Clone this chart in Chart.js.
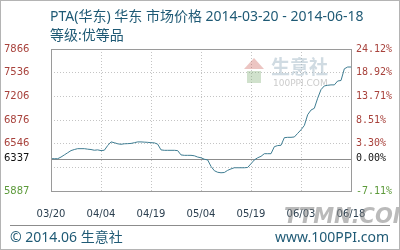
<!DOCTYPE html>
<html>
<head>
<meta charset="utf-8">
<script src="https://cdn.jsdelivr.net/npm/chart.js@4"></script>
<style>
  html, body { margin: 0; padding: 0; background: #fff; }
  #wrap { width: 398px; height: 248px; border: 1px solid #b4b4b4; position: relative; }
  canvas { display: block; }
</style>
</head>
<body>
<div id="wrap"><canvas id="c" width="398" height="248"></canvas></div>
<script>
// dates from 03/20 to 06/18, one point per day
const dates = []
const start = new Date(2014, 2, 20)
for (let i = 0; i <= 90; i++) {
    const d = new Date(start.getTime() + i * 86400000)
    dates.push(String(d.getMonth() + 1).padStart(2, '0') + '/' + String(d.getDate()).padStart(2, '0'))
}

// PTA price
const prices = [
    6337, 6337, 6337, 6360, 6390, 6420, 6450, 6465, 6477, 6477,
    6477, 6470, 6465, 6455, 6460, 6450, 6455, 6520, 6571, 6560,
    6545, 6538, 6545, 6547, 6550, 6560, 6571, 6571, 6568, 6565,
    6560, 6558, 6540, 6460, 6454, 6454, 6454, 6454, 6450, 6390,
    6384, 6384, 6384, 6378, 6360, 6350, 6330, 6320, 6230, 6170,
    6148, 6141, 6145, 6175, 6195, 6211, 6211, 6211, 6211, 6215,
    6267, 6320, 6350, 6370, 6407, 6407, 6407, 6505, 6520, 6524,
    6630, 6635, 6635, 6640, 6690, 6740, 6800, 6950, 7015, 7040,
    7180, 7300, 7352, 7360, 7366, 7366, 7420, 7427, 7590, 7615,
    7615
]

const baseValue = 6337
const tickValues = [5887, 6217, 6337, 6546, 6876, 7206, 7536, 7866]
const leftLabels = ['5887', '', '6337', '6546', '6876', '7206', '7536', '7866']
const rightLabels = ['-7.11%', '', '0.00%', '3.30%', '8.51%', '13.71%', '18.92%', '24.12%']
const xTickStep = 15

const RED = '#a8423c'
const GREEN = '#5c9a3a'
const BLUE = '#1f5a75'

function labelColor(v) {
    if (v === baseValue) return '#111'
    if (v < baseValue) return GREEN
    return RED
}

const decor = {
    id: 'decor',
    beforeDatasetsDraw(chart) {
        const ctx = chart.ctx
        const a = chart.chartArea
        ctx.save()
        // watermark in the plot
        ctx.fillStyle = 'rgba(200,90,80,0.35)'
        ctx.beginPath()
        ctx.moveTo(243, 68); ctx.lineTo(253, 57); ctx.lineTo(263, 68); ctx.closePath(); ctx.fill()
        ctx.fillStyle = 'rgba(120,170,110,0.35)'
        ctx.fillRect(246, 70, 14, 12)
        ctx.fillStyle = 'rgba(150,175,190,0.45)'
        ctx.font = 'bold 19px "Noto Sans CJK SC"'
        ctx.textBaseline = 'middle'
        ctx.fillText('生意社', 270, 66)
        ctx.fillStyle = 'rgba(160,160,160,0.55)'
        ctx.font = '9px "DejaVu Sans"'
        ctx.fillText('100PPI.COM', 272, 83)
        // base line
        const y = chart.scales.y.getPixelForValue(baseValue)
        ctx.strokeStyle = '#8c8c8c'
        ctx.lineWidth = 1
        ctx.beginPath()
        ctx.moveTo(a.left, Math.round(y) + 0.5)
        ctx.lineTo(a.right, Math.round(y) + 0.5)
        ctx.stroke()
        ctx.restore()
    },
    afterDraw(chart) {
        const ctx = chart.ctx
        const a = chart.chartArea
        ctx.save()
        ctx.strokeStyle = '#9a9a9a'
        ctx.lineWidth = 1
        ctx.strokeRect(Math.round(a.left) + 0.5, Math.round(a.top) + 0.5, Math.round(a.right - a.left), Math.round(a.bottom - a.top))
        // title
        ctx.fillStyle = BLUE
        ctx.textBaseline = 'alphabetic'
        ctx.font = '14px "Noto Sans", "Noto Sans CJK SC"'
        ctx.fillText('PTA(华东) 华东 市场价格 2014-03-20 - 2014-06-18', 49, 20)
        ctx.fillText('等级:优等品', 49, 39)
        // footer
        ctx.fillStyle = 'rgba(130,130,130,0.55)'
        ctx.font = 'italic bold 21px "DejaVu Sans"'
        ctx.fillText('TTMN.COM', 283, 222)
        ctx.strokeStyle = '#8c8c8c'
        ctx.beginPath()
        ctx.moveTo(9, 224.5); ctx.lineTo(389, 224.5)
        ctx.stroke()
        ctx.fillStyle = BLUE
        ctx.font = '14px "Noto Sans", "Noto Sans CJK SC"'
        ctx.fillText('© 2014.06 生意社', 9, 241)
        ctx.textAlign = 'right'
        ctx.fillText('www.100PPI.com', 388, 241)
        ctx.restore()
    }
}

new Chart(document.getElementById('c').getContext('2d'), {
    type: 'line',
    data: {
        labels: dates,
        datasets: [{
            data: prices,
            borderColor: '#3f7d92',
            borderWidth: 1,
            pointRadius: 0,
            tension: 0,
            fill: false,
            yAxisID: 'y'
        }, {
            data: prices,
            borderWidth: 0,
            pointRadius: 0,
            showLine: false,
            yAxisID: 'y2'
        }]
    },
    options: {
        responsive: false,
        animation: false,
        events: [],
        layout: { padding: { top: 48, left: 3, right: 0, bottom: 0 } },
        plugins: { legend: { display: false }, tooltip: { enabled: false } },
        scales: {
            x: {
                offset: false,
                border: { display: false, dash: [1, 2] },
                grid: {
                    drawTicks: false,
                    color: (c) => (c.index % xTickStep === 0 && c.index > 0 && c.index < dates.length - 1) ? '#c4c4c4' : 'transparent'
                },
                ticks: {
                    autoSkip: false,
                    maxRotation: 0,
                    padding: 17,
                    color: '#2b3f4f',
                    font: { family: 'DejaVu Sans', size: 10 },
                    callback: (v, i) => i % xTickStep === 0 ? dates[i] : ''
                },
                afterFit: (s) => { s.height = 58 }
            },
            y: {
                position: 'left',
                min: 5887,
                max: 7866,
                afterBuildTicks: (s) => { s.ticks = tickValues.map(v => ({ value: v })) },
                border: { display: false, dash: [1, 2] },
                grid: {
                    drawTicks: false,
                    color: (c) => (c.tick && c.tick.value !== baseValue && c.tick.value !== 5887 && c.tick.value !== 7866) ? '#c4c4c4' : 'transparent'
                },
                ticks: {
                    crossAlign: 'far',
                    padding: 4,
                    color: (c) => labelColor(c.tick.value),
                    font: { family: 'DejaVu Sans', size: 10 },
                    callback: (v) => leftLabels[tickValues.indexOf(v)]
                },
                afterFit: (s) => { s.width = 47 }
            },
            y2: {
                position: 'right',
                min: 5887,
                max: 7866,
                afterBuildTicks: (s) => { s.ticks = tickValues.map(v => ({ value: v })) },
                border: { display: false },
                grid: { display: false, drawTicks: false },
                ticks: {
                    padding: 5,
                    color: (c) => labelColor(c.tick.value),
                    font: { family: 'DejaVu Sans Mono', size: 10 },
                    callback: (v) => rightLabels[tickValues.indexOf(v)]
                },
                afterFit: (s) => { s.width = 48 }
            }
        }
    },
    plugins: [decor]
})
</script>
</body>
</html>
